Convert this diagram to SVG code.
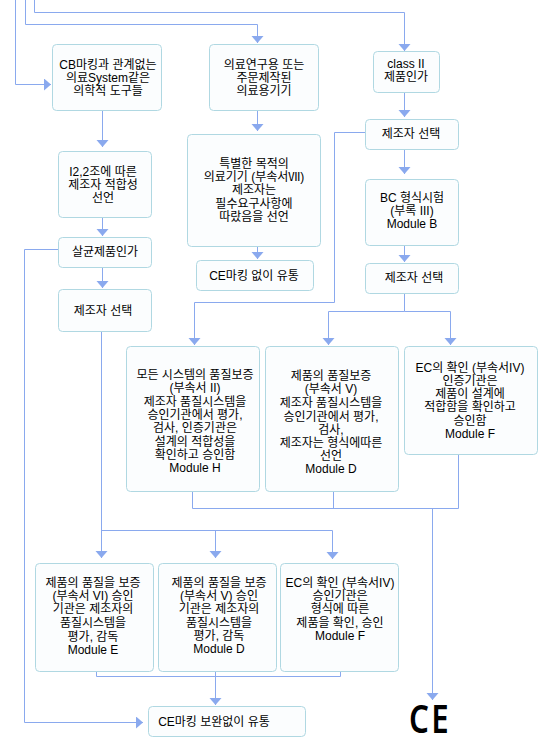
<svg xmlns="http://www.w3.org/2000/svg" width="551" height="744" viewBox="0 0 551 744">
<style>
text{font-family:"Liberation Sans","Noto Sans CJK KR",sans-serif;font-size:12px;fill:#000;text-anchor:middle}
.b{fill:#fbfdfe;stroke:#b0d8e2;stroke-width:1}
#connectors path{fill:none;stroke:#8aa9ee;stroke-width:1}
.a{marker-end:url(#ah)}
</style>
<defs>
<marker id="ah" markerUnits="userSpaceOnUse" markerWidth="8" markerHeight="13" refX="7" refY="6" orient="auto"><path d="M0,0L7,6L0,12z" fill="#8aa9ee" stroke="none"/></marker>
</defs>
<rect width="551" height="744" fill="#fff"/>
<g id="connectors">
<path class="a" d="M15.5,0V84.5H51"/>
<path class="a" d="M25.5,0V24.5H257.5V43"/>
<path class="a" d="M34.5,0V12.5H404.5V51"/>
<path class="a" d="M102.5,110V147"/>
<path class="a" d="M102.5,217V236"/>
<path class="a" d="M102.5,267V288"/>
<path class="a" d="M58,249.5H24.5V722.5H143"/>
<path class="a" d="M101.5,332V558"/>
<path class="a" d="M101.5,530.5H332.5V559"/>
<path class="a" d="M215.5,530.5V558"/>
<path d="M96.5,671V676.5H340.5V671"/>
<path class="a" d="M215.5,671V705"/>
<path class="a" d="M257.5,110V131"/>
<path class="a" d="M257.5,246V259"/>
<path class="a" d="M404.5,92V117"/>
<path class="a" d="M404.5,149V174"/>
<path class="a" d="M404.5,245V262"/>
<path class="a" d="M365,132.5H334.5V302.5H194.5V345"/>
<path d="M404.5,293V311.5"/>
<path class="a" d="M404.5,311.5H328.5V345"/>
<path class="a" d="M404.5,311.5H450.5V345"/>
<path d="M192.5,491V508.5H458.5V454"/>
<path d="M333.5,491V508.5"/>
<path class="a" d="M432.5,508.5V700"/>
</g>
<g id="n1"><rect class="b" x="52.5" y="44.5" width="109" height="66" rx="4"/><text x="108"><tspan x="108" y="69">CB마킹과 관계없는</tspan><tspan x="108" y="82">의료System같은</tspan><tspan x="108" y="95">의학적 도구들</tspan></text></g>
<g id="n2"><rect class="b" x="58.5" y="151.5" width="93" height="66" rx="4"/><text><tspan x="103" y="176">I2,2조에 따른</tspan><tspan x="103" y="189">제조자 적합성</tspan><tspan x="103" y="202">선언</tspan></text></g>
<g id="n3"><rect class="b" x="58.5" y="237.5" width="93" height="30" rx="4"/><text x="105" y="256">살균제품인가</text></g>
<g id="n4"><rect class="b" x="58.5" y="289.5" width="93" height="42" rx="4"/><text x="103" y="315">제조자 선택</text></g>
<g id="n5"><rect class="b" x="209.5" y="44.5" width="109" height="66" rx="4"/><text><tspan x="264" y="69">의료연구용 또는</tspan><tspan x="264" y="82">주문제작된</tspan><tspan x="264" y="95">의료용기기</tspan></text></g>
<g id="n6"><rect class="b" x="187.5" y="134.5" width="133" height="112" rx="4"/><text><tspan x="254" y="168">특별한 목적의</tspan><tspan x="254" y="181">의료기기 (부속서Ⅶ)</tspan><tspan x="254" y="194">제조자는</tspan><tspan x="254" y="208">필수요구사항에</tspan><tspan x="254" y="221">따랐음을 선언</tspan></text></g>
<g id="n7"><rect class="b" x="196.5" y="260.5" width="117" height="30" rx="4"/><text x="254" y="280">CE마킹 없이 유통</text></g>
<g id="n8"><rect class="b" x="373.5" y="51.5" width="66" height="41" rx="4"/><text><tspan x="406" y="68">class II</tspan><tspan x="406" y="81">제품인가</tspan></text></g>
<g id="n9"><rect class="b" x="365.5" y="119.5" width="93" height="30" rx="4"/><text x="411" y="138">제조자 선택</text></g>
<g id="n10"><rect class="b" x="365.5" y="179.5" width="93" height="66" rx="4"/><text><tspan x="412" y="202">BC 형식시험</tspan><tspan x="412" y="215">(부록 III)</tspan><tspan x="412" y="228">Module B</tspan></text></g>
<g id="n11"><rect class="b" x="365.5" y="263.5" width="93" height="30" rx="4"/><text x="414" y="282">제조자 선택</text></g>
<g id="n12"><rect class="b" x="126.5" y="346.5" width="133" height="145" rx="4"/><text><tspan x="195" y="379">모든 시스템의 품질보증</tspan><tspan x="195" y="392">(부속서 II)</tspan><tspan x="195" y="406">제조자 품질시스템을</tspan><tspan x="195" y="419">승인기관에서 평가,</tspan><tspan x="195" y="432">검사, 인증기관은</tspan><tspan x="195" y="446">설계의 적합성을</tspan><tspan x="195" y="459">확인하고 승인함</tspan><tspan x="195" y="472">Module H</tspan></text></g>
<g id="n13"><rect class="b" x="265.5" y="346.5" width="133" height="145" rx="4"/><text><tspan x="331" y="380">제품의 품질보증</tspan><tspan x="331" y="393">(부속서 V)</tspan><tspan x="331" y="407">제조자 품질시스템을</tspan><tspan x="331" y="421">승인기관에서 평가,</tspan><tspan x="331" y="434">검사,</tspan><tspan x="331" y="447">제조자는 형식에따른</tspan><tspan x="331" y="460">선언</tspan><tspan x="331" y="473">Module D</tspan></text></g>
<g id="n14"><rect class="b" x="404.5" y="346.5" width="133" height="108" rx="4"/><text><tspan x="470" y="372">EC의 확인 (부속서IV)</tspan><tspan x="470" y="385">인증기관은</tspan><tspan x="470" y="398">제품이 설계에</tspan><tspan x="470" y="411">적합함을 확인하고</tspan><tspan x="470" y="425">승인함</tspan><tspan x="470" y="438">Module F</tspan></text></g>
<g id="n15"><rect class="b" x="35.5" y="563.5" width="118" height="108" rx="4"/><text><tspan x="93" y="587">제품의 품질을 보증</tspan><tspan x="93" y="600">(부속서 VI) 승인</tspan><tspan x="93" y="613">기관은 제조자의</tspan><tspan x="93" y="627">품질시스템을</tspan><tspan x="93" y="641">평가, 감독</tspan><tspan x="93" y="654">Module E</tspan></text></g>
<g id="n16"><rect class="b" x="158.5" y="563.5" width="118" height="108" rx="4"/><text><tspan x="219" y="587">제품의 품질을 보증</tspan><tspan x="219" y="600">(부속서 V) 승인</tspan><tspan x="219" y="613">기관은 제조자의</tspan><tspan x="219" y="627">품질시스템을</tspan><tspan x="219" y="640">평가, 감독</tspan><tspan x="219" y="653">Module D</tspan></text></g>
<g id="n17"><rect class="b" x="280.5" y="563.5" width="118" height="108" rx="4"/><text><tspan x="340" y="587">EC의 확인 (부속서IV)</tspan><tspan x="340" y="600">승인기관은</tspan><tspan x="340" y="613">형식에 따른</tspan><tspan x="340" y="627">제품을 확인, 승인</tspan><tspan x="340" y="640">Module F</tspan></text></g>
<g id="n18"><rect class="b" x="148.5" y="706.5" width="157" height="30" rx="4"/><text x="214" y="726">CE마킹 보완없이 유통</text></g>
<g id="n19"><text transform="translate(430 733) scale(.78 1)" style="font-family:'Noto Sans',sans-serif;font-size:40px;font-weight:600;letter-spacing:3px">CE</text></g>
</svg>
